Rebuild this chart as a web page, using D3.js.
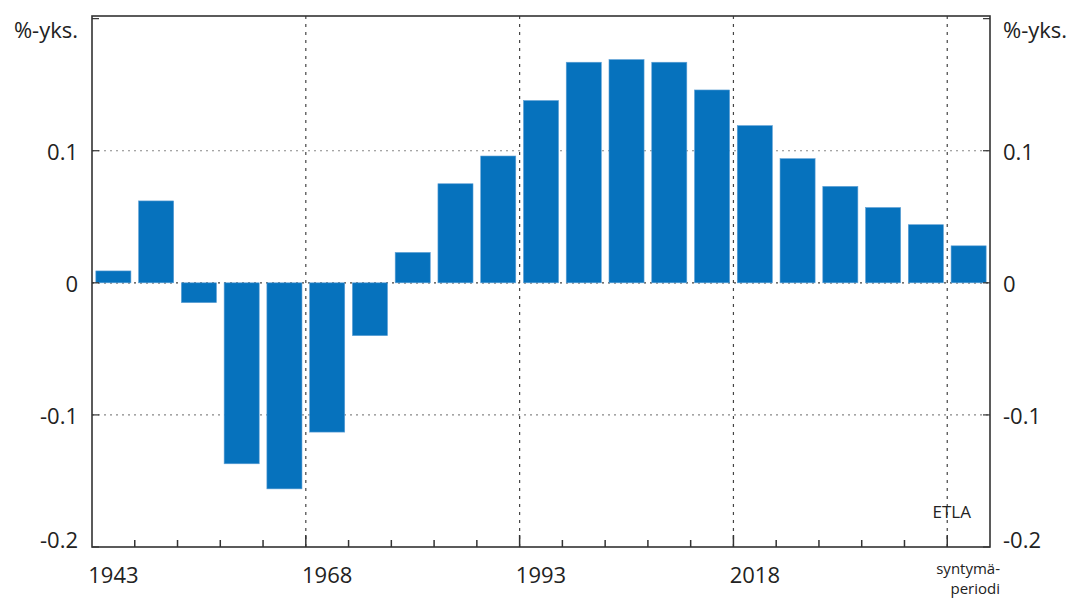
<!DOCTYPE html>
<html>
<head>
<meta charset="utf-8">
<script src="https://cdn.jsdelivr.net/npm/d3@7"></script>
<style>
  body { margin: 0; background: #fff; }
  svg { font-family: "Open Sans", sans-serif; }
  .lbl { fill: #222; font-size: 22px; }
</style>
</head>
<body>
<svg width="1072" height="599"></svg>
<script>
// Birth periods (one bar per 5-year cohort)
let periods = [1943, 1948, 1953, 1958, 1963, 1968, 1973, 1978, 1983, 1988, 1993,
    1998, 2003, 2008, 2013, 2018, 2023, 2028, 2033, 2038, 2043];

// Change in percentage points
let values = [0.009, 0.062, -0.015, -0.137, -0.156, -0.113, -0.040, 0.023, 0.075, 0.096,
    0.138, 0.167, 0.169, 0.167, 0.146, 0.119, 0.094, 0.073, 0.057, 0.044, 0.028];

let yTicks = [-0.2, -0.1, 0, 0.1];
let yTickLabels = ["-0.2", "-0.1", "0", "0.1"];
let gridValues = [-0.1, 0, 0.1];
let labelPeriods = [1943, 1968, 1993, 2018];

let margin = { top: 16, right: 82, bottom: 52, left: 92 },
    width = 1072 - margin.left - margin.right,
    height = 599 - margin.top - margin.bottom;

let svg = d3.select("svg");
let g = svg.append("g").attr("transform", "translate(" + margin.left + "," + margin.top + ")");

let x = d3.scaleBand()
    .domain(periods)
    .range([0, width])
    .paddingInner(0.18)
    .paddingOuter(0.09);

let y = d3.scaleLinear()
    .domain([-0.2, 0.202])
    .range([height, 0]);

// boundary between bar i-1 and bar i
function edge(i) { return i * x.step(); }

// horizontal dotted gridlines
g.append("g")
    .selectAll("line")
    .data(gridValues)
    .enter().append("line")
    .attr("x1", 0)
    .attr("x2", width)
    .attr("y1", function (d) { return y(d); })
    .attr("y2", function (d) { return y(d); })
    .attr("stroke", d => d === 0 ? "#444" : "#888")
    .attr("stroke-width", 1.2)
    .attr("stroke-dasharray", "2,4");

// vertical dashed gridlines
g.append("g")
    .selectAll("line")
    .data([5, 10, 15, 20])
    .enter().append("line")
    .attr("x1", edge)
    .attr("x2", edge)
    .attr("y1", 0)
    .attr("y2", height)
    .attr("stroke", "#444")
    .attr("stroke-width", 1.2)
    .attr("stroke-dasharray", "3,5");

// bars
g.append("g")
    .selectAll("rect")
    .data(periods)
    .enter().append("rect")
    .attr("x", function (d) { return x(d); })
    .attr("width", x.bandwidth())
    .attr("y", function (d, i) { return y(Math.max(0, values[i])); })
    .attr("height", function (d, i) { return Math.abs(y(values[i]) - y(0)); })
    .attr("fill", "#0672bd")
    .attr("stroke", "#5d9fd5")
    .attr("stroke-width", 0.6);

// x ticks at period boundaries
g.append("g")
    .selectAll("line")
    .data(d3.range(1, periods.length))
    .enter().append("line")
    .attr("x1", edge)
    .attr("x2", edge)
    .attr("y1", height)
    .attr("y2", function (i) { return height - (i % 5 === 0 ? 12 : 7); })
    .attr("stroke", "#333")
    .attr("stroke-width", 1.5);

// y ticks on both sides
let yt = g.append("g");
yTicks.concat([0.2]).forEach(function (v) {
    yt.append("line").attr("x1", 0).attr("x2", 7).attr("y1", y(v)).attr("y2", y(v))
        .attr("stroke", "#333").attr("stroke-width", 1.2);
    yt.append("line").attr("x1", width - 7).attr("x2", width).attr("y1", y(v)).attr("y2", y(v))
        .attr("stroke", "#333").attr("stroke-width", 1.2);
});

// frame
g.append("rect")
    .attr("width", width)
    .attr("height", height)
    .attr("fill", "none")
    .attr("stroke", "#333")
    .attr("stroke-width", 1.6);

// y labels
g.append("g")
    .selectAll("text")
    .data(yTicks)
    .enter().append("text")
    .attr("class", "lbl")
    .attr("x", -14)
    .attr("y", function (d) { return y(d) + (d === -0.2 ? 1 : 9); })
    .attr("text-anchor", "end")
    .text(function (d, i) { return yTickLabels[i]; });

g.append("g")
    .selectAll("text")
    .data(yTicks)
    .enter().append("text")
    .attr("class", "lbl")
    .attr("x", width + 13)
    .attr("y", function (d) { return y(d) + (d === -0.2 ? 1 : 9); })
    .attr("text-anchor", "start")
    .text(function (d, i) { return yTickLabels[i]; });

// unit labels
svg.append("text").attr("class", "lbl").attr("x", 78).attr("y", 38)
    .attr("text-anchor", "end").text("%-yks.");
svg.append("text").attr("class", "lbl").attr("x", 1003).attr("y", 38)
    .attr("text-anchor", "start").text("%-yks.");

// x labels
g.append("g")
    .selectAll("text")
    .data(labelPeriods)
    .enter().append("text")
    .attr("class", "lbl")
    .attr("x", function (d) { return x(d) + x.bandwidth() / 2; })
    .attr("y", height + 36)
    .attr("text-anchor", "middle")
    .text(function (d) { return d; });

// two-line axis title, separate texts so the lines do not overlap
svg.append("text")
    .attr("x", 1000).attr("y", 574)
    .attr("text-anchor", "end")
    .attr("font-size", 15)
    .attr("fill", "#222")
    .text("syntymä-");
svg.append("text")
    .attr("x", 1000).attr("y", 594)
    .attr("text-anchor", "end")
    .attr("font-size", 15)
    .attr("fill", "#222")
    .text("periodi");

svg.append("text")
    .attr("x", 971)
    .attr("y", 518)
    .attr("text-anchor", "end")
    .attr("font-size", 17)
    .attr("fill", "#222")
    .text("ETLA");
</script>
</body>
</html>
